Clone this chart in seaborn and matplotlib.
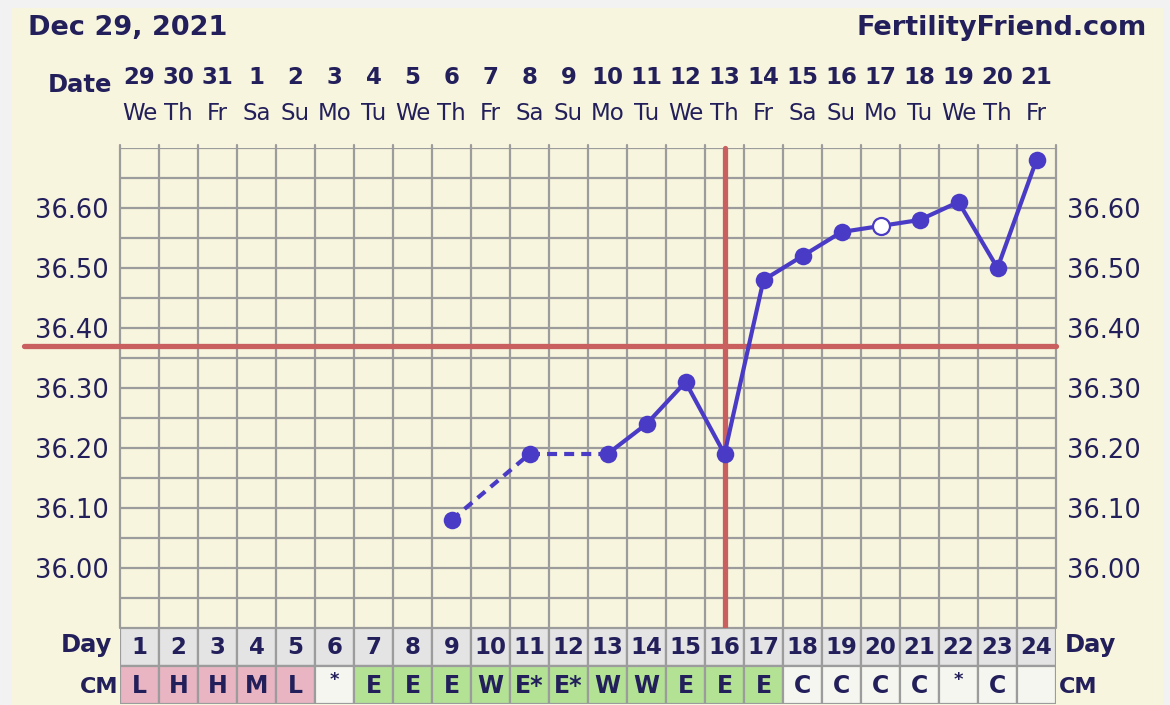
import matplotlib
matplotlib.use("Agg")
import matplotlib.pyplot as plt
import matplotlib.transforms as mtransforms
from matplotlib.patches import Rectangle
import seaborn as sns
import pandas as pds
import numpy as np

# данные графика
chart_date = "Dec 29, 2021"
site_name = "FertilityFriend.com"
cycle_days = list(range(1, 25))
dates = ["29", "30", "31", "1", "2", "3", "4", "5", "6", "7", "8", "9",
         "10", "11", "12", "13", "14", "15", "16", "17", "18", "19", "20", "21"]
weekdays = ["We", "Th", "Fr", "Sa", "Su", "Mo", "Tu", "We", "Th", "Fr", "Sa", "Su",
            "Mo", "Tu", "We", "Th", "Fr", "Sa", "Su", "Mo", "Tu", "We", "Th", "Fr"]
temps = [np.nan, np.nan, np.nan, np.nan, np.nan, np.nan, np.nan, np.nan,
         36.08, np.nan, 36.19, np.nan, 36.19, 36.24, 36.31, 36.19,
         36.48, 36.52, 36.56, 36.57, 36.58, 36.61, 36.50, 36.68]
open_days = [20]
cm_codes = ["L", "H", "H", "M", "L", "*", "E", "E", "E", "W", "E*", "E*",
            "W", "W", "E", "E", "E", "C", "C", "C", "C", "*", "C", ""]
coverline = 36.37
ovulation_day = 16
y_ticks = [36.00, 36.10, 36.20, 36.30, 36.40, 36.50, 36.60]

# стиль
navy = "#221f5b"
blue = "#4a3bc6"
red = "#c95f5f"
grid_c = "#9c9c9c"
cream = "#f7f5dd"
cm_colors = {"L": "#e9b5c3", "H": "#e9b5c3", "M": "#e9b5c3",
             "E": "#b3e295", "W": "#b3e295", "E*": "#b3e295",
             "C": "#f6f6f0", "*": "#f6f6f0", "": "#f6f6f0"}

sns.set_style("white")
plt.rcParams["font.family"] = ["DejaVu Sans"]

W, H = 1170, 705
fig = plt.figure(figsize=(W / 100, H / 100), dpi=100)
fig.patch.set_facecolor("#f2f2f2")
fig.patches.append(Rectangle((12 / W, 0), (1163 - 12) / W, (H - 8) / H,
                             transform=fig.transFigure, facecolor=cream,
                             edgecolor="none", zorder=-5))

# основная область с температурой
x0, x1, ytop, ybot = 120, 1056, 148, 628
ax = fig.add_axes([x0 / W, (H - ybot) / H, (x1 - x0) / W, (ybot - ytop) / H])
ax.set_facecolor(cream)
ax.set_xlim(0.5, 24.5)
ax.set_ylim(35.90, 36.70)
for s in ax.spines.values():
    s.set_visible(False)
for xv in np.arange(0.5, 25, 1):
    ax.axvline(xv, color=grid_c, lw=1.6, zorder=1, ymax=1.006, clip_on=False)
for yv in np.arange(35.90, 36.71, 0.05):
    ax.axhline(yv, color=grid_c, lw=1.6, zorder=1)

ax.set_yticks(y_ticks)
ax.set_yticklabels([f"{v:.2f}" for v in y_ticks])
ax.tick_params(axis="y", length=0, labelsize=18.5, labelcolor=navy, pad=8,
               left=True, right=True, labelleft=True, labelright=True)
for lab in ax.get_yticklabels():
    lab.set_y(lab.get_position()[1])
ax.set_xticks([])

# линии покрытия и овуляции
ax.axhline(coverline, xmin=(24 - x0) / (x1 - x0), xmax=1, color=red, lw=3.8,
           zorder=3, clip_on=False)
ax.axvline(ovulation_day, ymin=-0.004, ymax=1.0, color=red, lw=3.8, zorder=3,
           clip_on=False)

df = pds.DataFrame({"day": cycle_days, "temp": temps}).dropna()
pts = list(zip(df["day"], df["temp"]))
for (d0, t0), (d1, t1) in zip(pts[:-1], pts[1:]):
    if d1 - d0 == 1:
        ax.plot([d0, d1], [t0, t1], color=blue, lw=3, zorder=4,
                solid_capstyle="round")
    else:
        ax.plot([d0, d1], [t0, t1], color=blue, lw=3, zorder=4,
                dashes=(2.4, 1.7))

df["open"] = df["day"].isin(open_days)
sns.scatterplot(data=df[~df["open"]], x="day", y="temp", ax=ax, s=160,
                color=blue, edgecolor=blue, linewidth=0, zorder=5)
sns.scatterplot(data=df[df["open"]], x="day", y="temp", ax=ax, s=150,
                color="white", edgecolor=blue, linewidth=1.6, zorder=5)
ax.set_xlabel("")
ax.set_ylabel("")

# верхние подписи
tr = mtransforms.blended_transform_factory(ax.transData, fig.transFigure)
for d, dt, wd in zip(cycle_days, dates, weekdays):
    ax.text(d, 1 - 77 / H, dt, transform=tr, ha="center", va="center",
            fontsize=16.5, fontweight="bold", color=navy)
    ax.text(d, 1 - 114 / H, wd, transform=tr, ha="center", va="center",
            fontsize=16.5, color=navy)
fig.text(112 / W, 1 - 85 / H, "Date", ha="right", va="center", fontsize=17.5,
         fontweight="bold", color=navy)
fig.text(28 / W, 1 - 28 / H, chart_date, ha="left", va="center", fontsize=19.5,
         fontweight="bold", color=navy)
fig.text(1147 / W, 1 - 28 / H, site_name, ha="right", va="center", fontsize=19.5,
         fontweight="bold", color=navy)

# таблица Day / CM
tab = fig.add_axes([x0 / W, (H - 704) / H, (x1 - x0) / W, 76 / H])
tab.set_xlim(0.5, 24.5)
tab.set_ylim(0, 2)
tab.axis("off")
for d, code in zip(cycle_days, cm_codes):
    tab.add_patch(Rectangle((d - 0.5, 1), 1, 1, facecolor="#e4e4e4",
                            edgecolor=grid_c, lw=1.6))
    tab.add_patch(Rectangle((d - 0.5, 0), 1, 1, facecolor=cm_colors[code],
                            edgecolor=grid_c, lw=1.6))
    tab.text(d, 1.48, str(d), ha="center", va="center", fontsize=16.5,
             fontweight="bold", color=navy)
    tab.text(d, 0.47 if code != "*" else 0.64, code, ha="center", va="center",
             fontsize=17 if code != "*" else 13, fontweight="bold", color=navy)

fig.text(112 / W, 1 - 645 / H, "Day", ha="right", va="center", fontsize=17.5,
         fontweight="bold", color=navy)
fig.text(1065 / W, 1 - 645 / H, "Day", ha="left", va="center", fontsize=17.5,
         fontweight="bold", color=navy)
fig.text(118 / W, 1 - 687 / H, "CM", ha="right", va="center", fontsize=16,
         fontweight="bold", color=navy)
fig.text(1059 / W, 1 - 687 / H, "CM", ha="left", va="center", fontsize=16,
         fontweight="bold", color=navy)

fig.savefig("out.png", dpi=100, facecolor=fig.get_facecolor())
